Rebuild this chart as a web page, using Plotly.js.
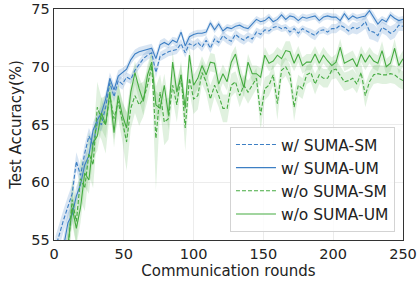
<!DOCTYPE html>
<html>
<head>
<meta charset="utf-8">
<script src="https://cdn.plot.ly/plotly-3.0.1.min.js"></script>
<style>html,body{margin:0;padding:0;background:#fff;}#chart{width:417px;height:281px;}</style>
</head>
<body>
<div id="chart"></div>
<script>
var rounds = [1,4,7,10,13,16,19,22,25,28, 31,34,37,40,43,46,49,52,55,58, 61,64,67,70,73,76,79,82,85,88,
  91,94,97,100,103,106,109,112,115,118, 121,124,127,130,133,136,139,142,145,148, 151,154,157,160,163,166,169,172,175,178,
  181,184,187,190,193,196,199,202,205,208, 211,214,217,220,223,226,229,232,235,238, 241,244,247,250];

var seriesNames = ['w/ SUMA-SM','w/ SUMA-UM','w/o SUMA-SM','w/o SUMA-UM'];

var wSM = [54.3,55.6,56.8,57.9,59.0,61.8,60.6,62.5,64.0,63.2,
  65.2,65.0,66.5,68.6,67.4,68.8,68.5,69.1,68.9,69.7,
  70.2,70.7,71.0,71.2,69.5,70.9,71.1,71.3,71.4,71.5,
  72.0,71.2,72.0,71.8,72.1,71.7,72.3,71.6,72.4,72.1,
  72.7,72.4,72.2,72.8,72.5,72.3,72.6,72.4,73.0,72.8,
  73.2,73.1,73.4,73.5,73.3,73.4,73.0,73.3,72.9,73.3,
  73.1,72.9,72.7,73.1,73.2,73.0,73.3,73.3,73.6,73.4,
  73.1,73.4,73.3,73.5,73.9,73.1,73.0,72.7,73.4,73.2,
  72.9,73.1,73.6,73.5];
var wSMStd = [1.0,1.0,0.9,0.9,0.8,0.8,0.8,0.8,0.7,0.7,
  0.6,0.6,0.6,0.5,0.5,0.5,0.5,0.4,0.4,0.4,
  0.4,0.4,0.4,0.4,0.5,0.4,0.4,0.4,0.4,0.4,
  0.4,0.4,0.4,0.4,0.4,0.4,0.4,0.4,0.4,0.4,
  0.4,0.4,0.4,0.4,0.4,0.4,0.4,0.4,0.4,0.4,
  0.3,0.3,0.3,0.3,0.3,0.3,0.4,0.3,0.4,0.3,
  0.3,0.4,0.4,0.3,0.3,0.3,0.4,0.4,0.4,0.4,
  0.4,0.5,0.5,0.5,0.6,0.7,0.7,0.6,0.5,0.5,
  0.6,0.6,0.5,0.4];

var wUM = [50,52.5,54.5,56.5,57.2,58.8,59.8,61.5,62.3,64.5,
  65.4,66.0,67.2,69.0,68.0,69.2,69.5,69.8,70.6,71.1,
  71.3,71.4,71.5,71.6,70.7,71.9,72.1,71.9,72.3,72.1,
  73.0,71.8,72.6,72.8,72.9,72.9,73.0,73.8,73.2,73.7,
  73.1,73.4,73.3,73.5,73.6,73.4,73.3,73.7,74.1,73.9,
  74.0,74.3,73.9,74.1,74.5,74.1,74.4,74.3,74.0,74.3,
  74.2,74.3,74.4,74.0,74.3,74.4,74.3,74.3,74.0,74.6,
  74.1,74.4,74.2,74.3,74.4,74.85,74.3,73.7,74.1,73.9,
  74.5,74.2,74.0,74.1];
var wUMStd = [1.0,1.0,0.9,0.9,0.8,0.8,0.7,0.8,0.7,0.7,
  0.6,0.6,0.6,0.5,0.5,0.5,0.4,0.4,0.4,0.4,
  0.4,0.4,0.4,0.4,0.5,0.4,0.4,0.3,0.3,0.4,
  0.3,0.4,0.3,0.3,0.3,0.3,0.3,0.3,0.3,0.3,
  0.3,0.3,0.3,0.3,0.3,0.3,0.3,0.3,0.3,0.3,
  0.3,0.3,0.3,0.3,0.3,0.3,0.3,0.3,0.3,0.3,
  0.3,0.3,0.3,0.3,0.3,0.3,0.3,0.3,0.3,0.3,
  0.3,0.3,0.3,0.3,0.3,0.3,0.4,0.4,0.3,0.3,
  0.3,0.3,0.3,0.3];

var woSM = [47,49,51,54,58.5,56.6,60.3,59.5,62.5,61.5,
  66.5,65.5,65.0,67.5,65.5,67.0,65.3,63.5,66.4,67.5,
  66.7,67.2,68.4,70.1,63.8,67.8,65.2,65.5,68.4,66.7,
  69.3,64.7,69.0,67.2,67.5,69.5,68.7,67.2,68.4,67.5,
  66.4,66.4,68.4,68.7,67.5,68.4,67.8,68.4,69.0,65.8,
  68.1,68.4,69.3,66.8,69.7,70.0,69.3,66.5,68.4,68.1,
  69.3,69.5,68.5,69.3,69.0,69.0,69.7,69.8,69.3,68.7,
  68.8,69.0,68.5,69.5,67.5,68.7,69.3,69.4,69.3,69.3,
  69.4,69.3,69.0,68.8];
var woSMStd = [2.0,2.0,2.0,2.0,1.8,2.0,1.8,2.0,1.8,2.0,
  2.2,1.8,2.5,1.5,1.8,1.5,1.8,2.5,1.8,1.5,
  1.8,1.5,1.3,1.2,4.5,1.5,2.0,1.8,1.2,1.5,
  1.2,2.0,1.2,1.3,1.2,1.0,1.0,1.2,1.0,1.0,
  1.2,1.2,1.0,0.9,1.0,0.9,1.0,0.9,0.9,1.3,
  1.0,0.9,0.9,1.4,0.9,0.8,0.9,1.2,0.9,0.9,
  0.8,0.8,0.9,0.8,0.8,0.8,0.8,0.8,0.8,0.8,
  0.8,0.8,0.8,0.8,1.0,0.8,0.8,0.8,0.8,0.8,
  0.8,0.8,0.8,0.8];

var woUM = [47.5,49.5,52,54.5,57.8,56.0,57.8,60.8,60.2,63.4,
  64.0,66.0,65.0,67.8,64.3,67.5,65.8,64.7,67.8,69.5,
  68.1,67.0,69.3,70.4,66.7,66.4,68.4,65.8,70.4,67.8,
  69.3,66.4,71.0,68.4,69.0,70.1,69.3,70.4,70.3,68.5,
  69.4,68.7,70.4,71.1,69.4,68.2,70.4,69.4,69.4,69.1,
  71.0,70.3,70.5,71.0,70.7,71.4,71.3,70.3,71.1,70.1,
  70.4,70.4,71.1,70.3,71.0,70.5,70.1,70.4,71.7,70.3,
  70.5,70.7,70.0,71.1,70.4,71.0,70.5,70.3,71.4,70.0,
  70.3,71.6,70.1,70.7];
var woUMStd = [1.5,1.5,1.5,1.5,1.4,1.5,1.3,1.2,1.2,1.3,
  1.3,1.4,1.2,1.2,1.3,1.1,1.1,1.4,1.0,1.0,
  1.0,1.2,0.9,0.9,1.2,1.1,1.0,1.3,0.9,1.0,
  0.9,1.2,0.8,0.9,0.9,0.8,0.8,0.8,0.8,0.8,
  0.8,0.8,0.7,0.7,0.8,0.8,0.7,0.7,0.7,0.8,
  0.7,0.7,0.7,0.7,0.7,0.8,0.9,0.7,0.7,0.7,
  0.7,0.7,0.7,0.7,0.7,0.7,0.7,0.7,0.7,0.7,
  0.7,0.7,0.7,0.7,0.7,0.7,0.7,0.7,0.8,0.7,
  0.7,0.8,0.7,0.7];

var BLUE = '#3d7fc4', GREEN = '#45ab40';
var BLUE_F = 'rgba(61,127,196,0.2)', GREEN_F = 'rgba(69,171,64,0.17)';

function band(vals, std, fill) {
  var up = vals.map(function(v,i){return v + std[i];});
  var lo = vals.map(function(v,i){return v - std[i];});
  return {
    x: rounds.concat(rounds.slice().reverse()),
    y: up.concat(lo.slice().reverse()),
    type: 'scatter', mode: 'lines', fill: 'toself', fillcolor: fill,
    line: {width: 0, color: 'rgba(0,0,0,0)'}, hoverinfo: 'skip', showlegend: false
  };
}
function line(vals, name, color, dash) {
  return {x: rounds, y: vals, type: 'scatter', mode: 'lines', name: name,
    line: {color: color, width: 1.1, dash: dash}};
}

var data = [
  band(wSM, wSMStd, BLUE_F),
  band(wUM, wUMStd, BLUE_F),
  band(woSM, woSMStd, GREEN_F),
  band(woUM, woUMStd, GREEN_F),
  line(wSM, seriesNames[0], BLUE, '4px,2px'),
  line(wUM, seriesNames[1], BLUE, 'solid'),
  line(woSM, seriesNames[2], GREEN, '4px,2px'),
  line(woUM, seriesNames[3], GREEN, 'solid')
];

var layout = {
  width: 417, height: 281,
  margin: {l: 54, r: 14, t: 9, b: 41},
  paper_bgcolor: '#fff', plot_bgcolor: '#fff',
  font: {family: 'DejaVu Sans', size: 15, color: '#222'},
  xaxis: {range: [0, 250], tickvals: [0,50,100,150,200,250], showgrid: true, gridcolor: '#ececec', gridwidth: 1,
    showline: true, mirror: true, linecolor: '#333', linewidth: 1.3, ticks: '', zeroline: false,
    ticklabeloverflow: 'allow', tickfont: {size: 14.5},
    title: {text: 'Communication rounds', font: {size: 15}, standoff: 3}},
  yaxis: {range: [55, 75], tickvals: [55,60,65,70,75], showgrid: true, gridcolor: '#ececec', gridwidth: 1,
    showline: true, mirror: true, linecolor: '#333', linewidth: 1.3, ticks: '', zeroline: false,
    ticklabeloverflow: 'allow', tickfont: {size: 14.5},
    title: {text: 'Test Accuracy(%)', font: {size: 15}, standoff: 6}},
  legend: {x: 0.977, y: 0.035, xanchor: 'right', yanchor: 'bottom', bgcolor: 'rgba(255,255,255,0.85)',
    bordercolor: '#d3d3d3', borderwidth: 1, font: {size: 15.5}, itemwidth: 40},
  showlegend: true
};

Plotly.newPlot('chart', data, layout, {displayModeBar: false, staticPlot: true});
</script>
</body>
</html>
